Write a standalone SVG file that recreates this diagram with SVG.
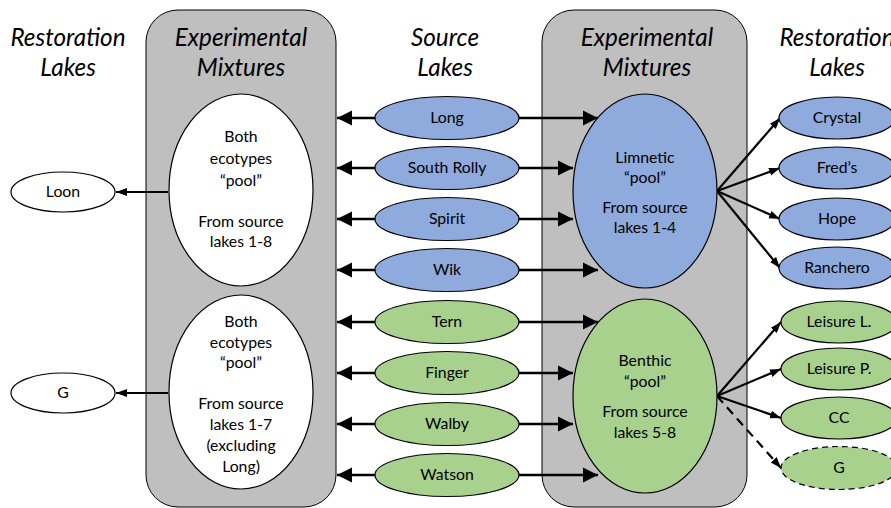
<svg xmlns="http://www.w3.org/2000/svg" width="891" height="508" viewBox="0 0 891 508">
<style>
.t{font-family:Lato,"Liberation Sans",sans-serif;font-size:24.3px;font-style:italic;fill:#000;text-anchor:middle}
.n{font-family:Lato,"Liberation Sans",sans-serif;font-size:15.8px;fill:#000;text-anchor:middle}
.box{fill:#bfbfbf;stroke:#000;stroke-width:1}
.blue{fill:#8faadc;stroke:#000;stroke-width:1.2}
.green{fill:#a9d18e;stroke:#000;stroke-width:1.2}
.white{fill:#fff;stroke:#000;stroke-width:1.2}
.big{stroke:#000;stroke-width:2.6;fill:none;marker-end:url(#hb)}
.thin{stroke:#000;stroke-width:2.2;fill:none;marker-end:url(#hs)}
</style>
<defs>
<marker id="hb" markerUnits="userSpaceOnUse" markerWidth="16" markerHeight="16" viewBox="0 0 16 16" refX="15" refY="8" orient="auto">
<path d="M0,0.5 L15,8 L0,15.5 Z" fill="#000"/>
</marker>
<marker id="hs" markerUnits="userSpaceOnUse" markerWidth="12" markerHeight="10" viewBox="0 0 12 10" refX="11" refY="5" orient="auto">
<path d="M0,1 L11,5 L0,9 Z" fill="#000"/>
</marker>
</defs>

<g id="boxLeft"><rect class="box" x="146" y="10" width="190" height="497" rx="32"/></g>
<g id="boxRight"><rect class="box" x="542" y="10" width="205" height="497" rx="32"/></g>

<g id="titles">
<text class="t" x="68" y="46">Restoration</text><text class="t" x="68" y="76">Lakes</text>
<text class="t" x="241" y="46">Experimental</text><text class="t" x="241" y="76">Mixtures</text>
<text class="t" x="445" y="46">Source</text><text class="t" x="445" y="76">Lakes</text>
<text class="t" x="647" y="46">Experimental</text><text class="t" x="647" y="76">Mixtures</text>
<text class="t" x="837" y="46">Restoration</text><text class="t" x="837" y="76">Lakes</text>
</g>

<g id="connectors">
<line class="thin" x1="168" y1="192" x2="116" y2="192"/>
<line class="thin" x1="168" y1="393" x2="116" y2="393"/>
<line class="big" x1="375" y1="118" x2="337" y2="118"/>
<line class="big" x1="375" y1="168" x2="337" y2="168"/>
<line class="big" x1="375" y1="219" x2="337" y2="219"/>
<line class="big" x1="375" y1="270" x2="337" y2="270"/>
<line class="big" x1="375" y1="322" x2="337" y2="322"/>
<line class="big" x1="375" y1="373" x2="337" y2="373"/>
<line class="big" x1="375" y1="424" x2="337" y2="424"/>
<line class="big" x1="375" y1="475" x2="337" y2="475"/>
<line class="big" x1="519" y1="118" x2="598" y2="118"/>
<line class="big" x1="519" y1="168" x2="573" y2="168"/>
<line class="big" x1="519" y1="219" x2="573" y2="219"/>
<line class="big" x1="519" y1="270" x2="598" y2="270"/>
<line class="big" x1="519" y1="322" x2="598" y2="322"/>
<line class="big" x1="519" y1="373" x2="573" y2="373"/>
<line class="big" x1="519" y1="424" x2="573" y2="424"/>
<line class="big" x1="519" y1="475" x2="598" y2="475"/>
<line class="thin" x1="717" y1="191" x2="780" y2="118"/>
<line class="thin" x1="717" y1="191" x2="780" y2="168"/>
<line class="thin" x1="717" y1="191" x2="780" y2="219"/>
<line class="thin" x1="717" y1="191" x2="780" y2="268"/>
<line class="thin" x1="717" y1="396" x2="781" y2="322"/>
<line class="thin" x1="717" y1="396" x2="781" y2="369"/>
<line class="thin" x1="717" y1="396" x2="781" y2="418"/>
<line class="thin" x1="717" y1="396" x2="781" y2="468" stroke-dasharray="9,6"/>
</g>

<g id="loon"><ellipse class="white" cx="63" cy="192" rx="52" ry="20"/><text class="n" x="63" y="197">Loon</text></g>
<g id="gLeft"><ellipse class="white" cx="63" cy="393" rx="52" ry="20"/><text class="n" x="63" y="398">G</text></g>

<g id="mixBothTop"><ellipse class="white" cx="241" cy="190" rx="72" ry="96"/>
<text class="n" x="241" y="142">Both</text><text class="n" x="241" y="164">ecotypes</text><text class="n" x="241" y="186">“pool”</text>
<text class="n" x="241" y="227">From source</text><text class="n" x="241" y="247">lakes 1-8</text></g>
<g id="mixBothBottom"><ellipse class="white" cx="241" cy="392" rx="72" ry="97"/>
<text class="n" x="241" y="327">Both</text><text class="n" x="241" y="348">ecotypes</text><text class="n" x="241" y="368">“pool”</text>
<text class="n" x="241" y="409">From source</text><text class="n" x="241" y="430">lakes 1-7</text><text class="n" x="241" y="451">(excluding</text><text class="n" x="241" y="472">Long)</text></g>

<g id="long"><ellipse class="blue" cx="447" cy="118" rx="72" ry="21.5"/><text class="n" x="447" y="123">Long</text></g>
<g id="southRolly"><ellipse class="blue" cx="447" cy="168" rx="72" ry="21.5"/><text class="n" x="447" y="173">South Rolly</text></g>
<g id="spirit"><ellipse class="blue" cx="447" cy="219" rx="72" ry="21.5"/><text class="n" x="447" y="224">Spirit</text></g>
<g id="wik"><ellipse class="blue" cx="447" cy="270" rx="72" ry="21.5"/><text class="n" x="447" y="275">Wik</text></g>
<g id="tern"><ellipse class="green" cx="447" cy="322" rx="72" ry="21.5"/><text class="n" x="447" y="327">Tern</text></g>
<g id="finger"><ellipse class="green" cx="447" cy="373" rx="72" ry="21.5"/><text class="n" x="447" y="378">Finger</text></g>
<g id="walby"><ellipse class="green" cx="447" cy="424" rx="72" ry="21.5"/><text class="n" x="447" y="429">Walby</text></g>
<g id="watson"><ellipse class="green" cx="447" cy="475" rx="72" ry="21.5"/><text class="n" x="447" y="480">Watson</text></g>

<g id="limnetic"><ellipse class="blue" cx="645" cy="191" rx="72" ry="97"/>
<text class="n" x="645" y="163">Limnetic</text><text class="n" x="645" y="183">“pool”</text>
<text class="n" x="645" y="213">From source</text><text class="n" x="645" y="233">lakes 1-4</text></g>
<g id="benthic"><ellipse class="green" cx="645" cy="396" rx="72" ry="97"/>
<text class="n" x="645" y="366">Benthic</text><text class="n" x="645" y="387">“pool”</text>
<text class="n" x="645" y="417">From source</text><text class="n" x="645" y="438">lakes 5-8</text></g>

<g id="crystal"><ellipse class="blue" cx="837" cy="118" rx="58" ry="21"/><text class="n" x="837" y="123">Crystal</text></g>
<g id="freds"><ellipse class="blue" cx="837" cy="168" rx="58" ry="21"/><text class="n" x="837" y="173">Fred’s</text></g>
<g id="hope"><ellipse class="blue" cx="837" cy="219" rx="58" ry="21"/><text class="n" x="837" y="224">Hope</text></g>
<g id="ranchero"><ellipse class="blue" cx="837" cy="268" rx="58" ry="21"/><text class="n" x="837" y="273">Ranchero</text></g>
<g id="leisureL"><ellipse class="green" cx="839" cy="322" rx="58" ry="21"/><text class="n" x="839" y="327">Leisure L.</text></g>
<g id="leisureP"><ellipse class="green" cx="839" cy="369" rx="58" ry="21"/><text class="n" x="839" y="374">Leisure P.</text></g>
<g id="cc"><ellipse class="green" cx="839" cy="418" rx="58" ry="21"/><text class="n" x="839" y="423">CC</text></g>
<g id="gRight"><ellipse class="green" cx="839" cy="468" rx="58" ry="21.5" stroke-dasharray="6,4"/><text class="n" x="839" y="473">G</text></g>
</svg>
